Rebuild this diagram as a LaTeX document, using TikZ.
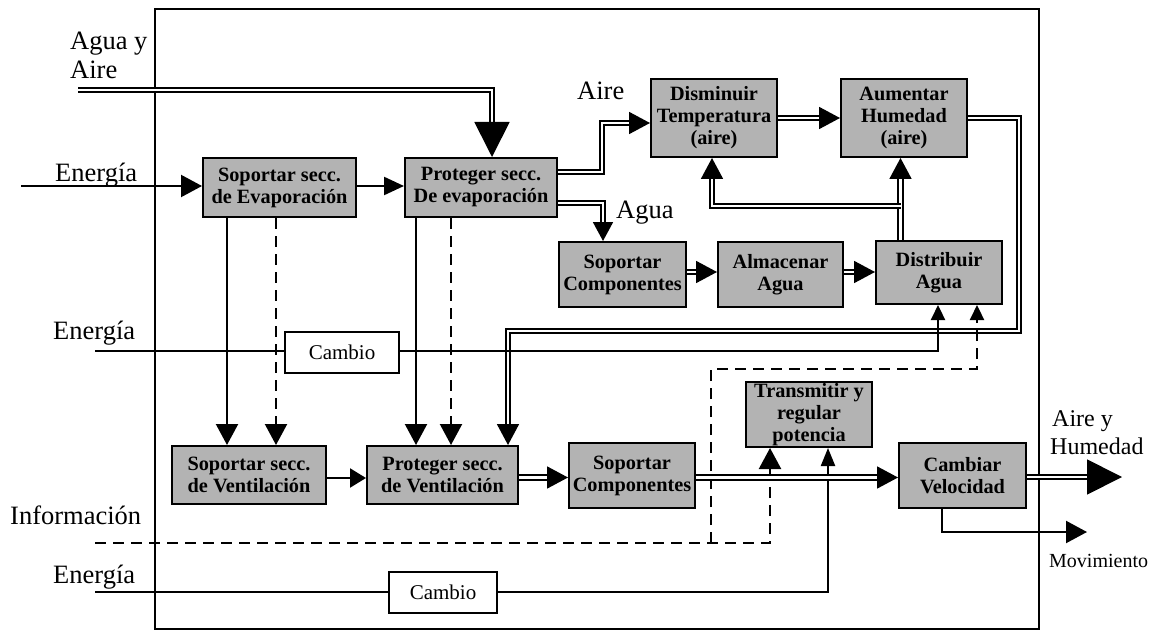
\documentclass[tikz,border=0pt]{standalone}
\usepackage{fontspec}
\setmainfont{Liberation Serif}
\usetikzlibrary{arrows.meta}
\definecolor{boxgray}{RGB}{179,179,179}
\tikzset{
  blk/.style={draw, line width=2pt, fill=boxgray, inner sep=0pt, align=center,
    font=\bfseries\fontsize{20.3}{22}\selectfont},
  chg/.style={draw, line width=2pt, fill=white, inner sep=0pt,
    font=\fontsize{21}{24}\selectfont},
  lbl/.style={inner sep=0pt, anchor=base west, font=\fontsize{26.5}{29}\selectfont},
  side lbl/.style={inner sep=0pt, anchor=base west, font=\fontsize{24}{28}\selectfont},
  small lbl/.style={inner sep=0pt, anchor=base west, font=\fontsize{20}{22}\selectfont},
  ln/.style={line width=2.2pt},
  dbl/.style={double, line width=1.8pt, double distance=2.5pt},
  dsh/.style={line width=2.2pt, dash pattern=on 11pt off 7pt},
  tipA/.style={-{Triangle[length=21pt,width=22pt]}},
  tipB/.style={-{Triangle[length=15pt,width=14pt]}},
  tipC/.style={-{Triangle[length=16pt,width=19pt]}},
  tipD/.style={-{Triangle[length=20pt,width=18pt]}},
  tipL/.style={-{Triangle[length=35pt,width=35pt]}},
}
\begin{document}
\begin{tikzpicture}[x=1pt,y=-1pt]
\useasboundingbox (0,0) rectangle (1158,631);

% system boundary
\draw[line width=1.9pt] (155,9) rectangle (1039,629);

% function blocks
\node[blk, minimum width=153pt, minimum height=59pt] (b1) at (279.5,187.5) {Soportar secc.\\de Evaporación};
\node[blk, minimum width=152pt, minimum height=59pt] (b2) at (481,187.5) {Proteger secc.\\De evaporación};
\node[blk, minimum width=126pt, minimum height=78pt] (b3) at (714,118) {Disminuir\\Temperatura\\(aire)};
\node[blk, minimum width=126pt, minimum height=78pt] (b4) at (904,118) {Aumentar\\Humedad\\(aire)};
\node[blk, minimum width=127pt, minimum height=65pt] (b5) at (622.5,274.5) {Soportar\\Componentes};
\node[blk, minimum width=125pt, minimum height=65pt] (b6) at (780.5,274.5) {Almacenar\\Agua};
\node[blk, minimum width=126pt, minimum height=63pt] (b7) at (939,272.5) {Distribuir\\Agua};
\node[blk, minimum width=126pt, minimum height=65pt] (b8) at (809,414.5) {Transmitir y\\regular\\potencia};
\node[blk, minimum width=154pt, minimum height=58pt] (b9) at (249,475) {Soportar secc.\\de Ventilación};
\node[blk, minimum width=151pt, minimum height=58pt] (b10) at (442.5,475) {Proteger secc.\\de Ventilación};
\node[blk, minimum width=126pt, minimum height=65pt] (b11) at (632,475.5) {Soportar\\Componentes};
\node[blk, minimum width=127pt, minimum height=65pt] (b12) at (962.5,475.5) {Cambiar\\Velocidad};

% converters
\node[chg, minimum width=114pt, minimum height=41pt] (cA) at (342,352.5) {Cambio};
\node[chg, minimum width=108pt, minimum height=41pt] (cB) at (443,592.5) {Cambio};

% flow labels
\node[lbl] (tAA1) at (70,50) {Agua y};
\node[lbl] (tAA2) at (70,79) {Aire};
\node[lbl] (tE1) at (55,182) {Energía};
\node[lbl] (tAir) at (577,100) {Aire};
\node[lbl] (tAgu) at (616,218) {Agua};
\node[lbl] (tE2) at (53,339) {Energía};
\node[lbl] (tInf) at (10,524) {Información};
\node[lbl] (tE3) at (53,583) {Energía};
\node[side lbl] (tAH1) at (1052,426) {Aire y};
\node[side lbl] (tAH2) at (1050,454) {Humedad};
\node[small lbl] (tMov) at (1049,567) {Movimiento};

% free ends of the external flows
\coordinate (inAA) at (78,90);
\coordinate (inE1) at (21,186);
\coordinate (inE2) at (95,351);
\coordinate (inI) at (95,543);
\coordinate (inE3) at (95,592);
\coordinate (outAH) at (1122,477);
\coordinate (outM) at (1087,532);
\coordinate (wsplit) at (900.5,206);
\coordinate (isplit) at (711,543);

% water and air input
\draw[dbl, tipL] (inAA) -| (b2.north -| 492,0);

% energy into the evaporation support
\draw[ln, tipA] (inE1) -- (b1.west |- inE1);
\draw[ln, tipD] (b1.east |- inE1) -- (b2.west |- inE1);

% air and water split
\draw[dbl, tipA] (b2.east |- 0,172) -| (602,123) -- (b3.west |- 0,123);
\draw[dbl, {-Triangle[length=19pt,width=20pt]}] (b2.east |- 0,203) -| (b5.north -| 603,0);

% air treatment chain
\draw[dbl, tipA] (b3.east) -- (b4.west);
\draw[dbl, tipA] (b4.east) -| (1019,331) -| (b10.north -| 508,0);

% water chain
\draw[dbl, tipA] (b5.east |- 0,272) -- (b6.west |- 0,272);
\draw[dbl, tipA] (b6.east |- 0,272) -- (b7.west |- 0,272);
\draw[dbl, tipA] (b7.north -| wsplit) -- (b4.south -| wsplit);
\draw[dbl, tipA] (wsplit) -| (b3.south -| 712,0);

% energy to the water distribution
\draw[ln] (inE2) -- (cA.west |- inE2);
\draw[ln, tipB] (cA.east |- inE2) -| (b7.south -| 938,0);

% information
\draw[dsh, tipA] (inI) -| (b8.south -| 770,0);
\draw[dsh, tipB] (isplit) |- (977,369) -- (b7.south -| 977,0);

% energy to the power transmission
\draw[ln] (inE3) -- (cB.west |- inE3);
\draw[ln, {-Triangle[length=18pt,width=14pt]}] (cB.east |- inE3) -| (b8.south -| 828,0);

% supports down to the ventilation section
\draw[ln, tipA] (b1.south -| 227,0) -- (b9.north -| 227,0);
\draw[dsh, tipA] (b1.south -| 276,0) -- (b9.north -| 276,0);
\draw[ln, tipA] (b2.south -| 416,0) -- (b10.north -| 416,0);
\draw[dsh, tipA] (b2.south -| 451,0) -- (b10.north -| 451,0);

% ventilation chain
\draw[ln, tipC] (b9.east |- 0,478) -- (b10.west |- 0,478);
\draw[dbl, tipA] (b10.east |- 0,477.5) -- (b11.west |- 0,477.5);
\draw[dbl, tipA] (b11.east |- 0,477.5) -- (b12.west |- 0,477.5);

% outputs
\draw[dbl, tipL] (b12.east |- outAH) -- (outAH);
\draw[ln, tipA] (b12.south -| 942,0) |- (outM);
\end{tikzpicture}
\end{document}
